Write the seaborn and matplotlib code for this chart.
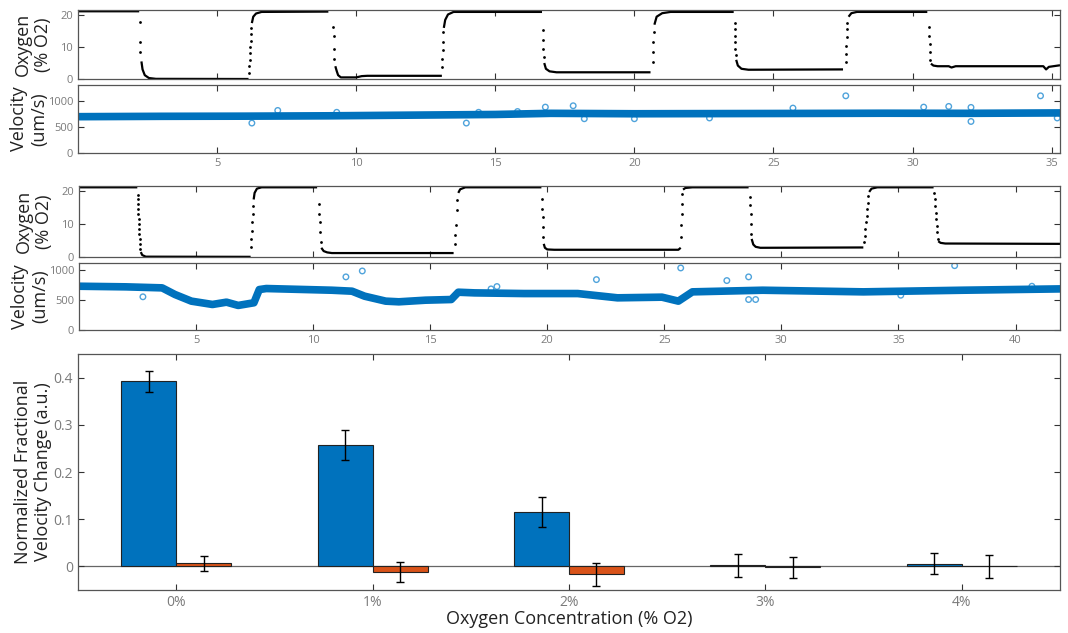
import numpy as np
import pandas as pd
import matplotlib
matplotlib.use("Agg")
import matplotlib.pyplot as plt
import seaborn as sns

nan = np.nan

# ---- run 1 (top pair of panels) ----
o2_a_t = [0, 2.2, nan, 2.28, 2.32, 2.4, 2.55, 2.8, 6.13, nan,
          6.25, 6.3, 6.4, 6.6, 9.0, nan,
          9.25, 9.3, 9.35, 9.45, 10.0, 10.2, 10.4, 13.08, nan,
          13.15, 13.2, 13.3, 13.5, 16.68, nan,
          16.76, 16.82, 16.95, 17.2, 20.58, nan,
          20.72, 20.8, 21.0, 21.3, 23.57, nan,
          23.66, 23.72, 23.85, 24.1, 27.5, nan,
          27.7, 27.8, 28.0, 30.53, nan,
          30.66, 30.75, 30.9, 31.3, 31.4, 31.55, 34.7, 34.8, 34.9, 35.3]
o2_a_v = [21.2, 21.2, nan, 5.5, 3.0, 1.2, 0.3, 0.05, 0.0, nan,
          17.5, 19.5, 20.5, 21.0, 21.1, nan,
          4.0, 2.5, 1.2, 0.5, 0.5, 0.9, 1.0, 1.0, nan,
          16.0, 18.5, 20.2, 21.0, 21.0, nan,
          5.0, 3.2, 2.4, 2.1, 2.1, nan,
          17.0, 19.5, 20.6, 21.0, 21.0, nan,
          6.0, 4.2, 3.2, 2.9, 3.0, nan,
          19.5, 20.6, 21.0, 21.0, nan,
          4.8, 4.2, 4.0, 4.0, 3.6, 4.0, 4.0, 3.0, 3.8, 4.3]
o2_a_dot_t = [2.23, 2.23, 2.23,
              6.15, 6.16, 6.17, 6.18, 6.19, 6.21, 6.22, 6.23,
              9.18, 9.19, 9.2, 9.21,
              13.09, 13.1, 13.11, 13.12, 13.13,
              16.71, 16.72, 16.73, 16.74,
              20.66, 20.67, 20.68, 20.69,
              23.6, 23.6, 23.61, 23.62, 23.63, 23.64,
              27.6, 27.61, 27.62, 27.63, 27.64, 27.65,
              30.59, 30.6, 30.61, 30.62, 30.63]
o2_a_dot_v = [18.0, 11.5, 8.3,
              2.0, 4.0, 6.0, 8.0, 10.0, 12.0, 14.0, 16.0,
              16.2, 13.4, 9.5, 6.4,
              3.8, 6.4, 9.0, 11.5, 14.6,
              15.2, 12.1, 9.5, 6.9,
              5.4, 8.5, 11.5, 14.6,
              17.5, 15.5, 13.5, 11.5, 9.5, 7.5,
              5.2, 7.8, 10.4, 13.0, 15.6, 17.6,
              16.2, 13.6, 11.0, 8.4, 5.8]
vel_a_t = [0, 3, 6, 9, 12, 15, 17, 20, 23, 26, 29, 32, 35.3]
vel_a_v = [705, 712, 715, 722, 735, 748, 770, 762, 765, 768, 772, 770, 778]
vel_a_out_t = [6.25, 7.18, 9.3, 13.96, 14.4, 15.8, 16.8, 17.8, 18.2, 20.0,
               22.7, 25.7, 27.6, 30.4, 31.3, 32.1, 32.1, 34.6, 35.2]
vel_a_out_v = [581, 826, 790, 581, 790, 805, 891, 917, 665, 665,
               680, 872, 1110, 891, 904, 885, 612, 1110, 680]

# ---- run 2 (middle pair of panels) ----
o2_b_t = [0, 2.49, nan, 2.64, 2.7, 2.85, 7.33, nan,
          7.46, 7.5, 7.6, 7.8, 10.17, nan,
          10.35, 10.45, 10.6, 10.8, 16.0, nan,
          16.2, 16.28, 16.5, 19.75, nan,
          19.85, 19.9, 20.0, 20.3, 25.6, 25.7, nan,
          25.8, 25.9, 26.2, 28.6, nan,
          28.73, 28.8, 28.9, 29.1, 33.5, nan,
          33.75, 33.85, 34.1, 36.5, nan,
          36.7, 36.8, 37.0, 41.9]
o2_b_v = [21.2, 21.2, nan, 1.5, 0.6, 0.1, 0.05, nan,
          17.5, 19.5, 20.8, 21.2, 21.2, nan,
          2.8, 1.8, 1.4, 1.2, 1.2, nan,
          19.5, 20.6, 21.2, 21.2, nan,
          4.0, 2.8, 2.3, 2.2, 2.2, 2.8, nan,
          20.5, 21.0, 21.2, 21.2, nan,
          5.5, 3.8, 3.1, 2.8, 2.9, nan,
          19.8, 20.8, 21.2, 21.2, nan,
          4.8, 4.3, 4.1, 4.0]
o2_b_dot_t = [2.5, 2.51, 2.52, 2.53, 2.54, 2.55, 2.56, 2.57, 2.58, 2.59, 2.6, 2.62,
              7.34, 7.36, 7.38, 7.4, 7.42, 7.44,
              10.24, 10.26, 10.28, 10.3, 10.32,
              16.06, 16.08, 16.1, 16.13, 16.16,
              19.78, 19.79, 19.8, 19.81, 19.82,
              25.72, 25.73, 25.74, 25.75, 25.76,
              28.67, 28.68, 28.69, 28.7, 28.71,
              33.52, 33.55, 33.58, 33.61, 33.64, 33.67, 33.7, 33.72,
              36.52, 36.55, 36.57, 36.59, 36.61, 36.63, 36.65, 36.67]
o2_b_dot_v = [19.0, 17.5, 16.0, 14.5, 13.0, 11.5, 10.0, 8.5, 7.0, 5.5, 4.0, 2.5,
              3.0, 5.5, 8.0, 10.5, 13.0, 15.5,
              16.2, 13.1, 10.6, 7.6, 4.5,
              4.0, 6.6, 9.6, 14.4, 17.2,
              17.7, 14.7, 12.1, 9.1, 6.1,
              6.1, 9.6, 13.1, 16.2, 19.2,
              18.2, 15.7, 13.1, 10.1, 7.1,
              4.5, 6.5, 8.5, 10.5, 12.5, 14.5, 16.5, 18.5,
              19.5, 17.5, 15.5, 13.5, 11.5, 9.5, 7.5, 5.5]
vel_b_t = [0, 2.0, 3.55, 4.1, 4.8, 5.7, 6.3, 6.8, 7.47, 7.7, 8.0, 10.8, 11.66,
           12.2, 13.1, 13.66, 14.8, 15.9, 16.2, 16.9, 19.0, 21.3, 23.0, 24.9,
           25.6, 26.2, 29.2, 33.5, 37.75, 41.9]
vel_b_v = [725, 715, 698, 588, 478, 423, 461, 407, 451, 670, 687, 659, 643,
           560, 478, 467, 494, 505, 626, 615, 604, 604, 533, 544,
           478, 632, 659, 632, 659, 681]
vel_b_out_t = [2.73, 11.4, 12.1, 17.6, 17.85, 22.1, 25.7, 27.67, 28.6, 28.6,
               28.9, 35.1, 37.4, 40.7]
vel_b_out_v = [550, 880, 978, 681, 720, 835, 1028, 819, 880, 505,
               505, 576, 1066, 725]

# ---- bar chart ----
conc_labels = ['0%', '1%', '2%', '3%', '4%']
blue_vals = [0.392, 0.258, 0.115, 0.002, 0.006]
blue_errs = [0.022, 0.032, 0.031, 0.024, 0.022]
orange_vals = [0.007, -0.012, -0.017, -0.002, 0.0]
orange_errs = [0.016, 0.022, 0.024, 0.022, 0.025]

BLUE = '#0072BD'
ORANGE = '#D95319'
LIGHT_BLUE = '#4FA3DB'
FRAME = '#555555'
TICKLAB = '#7a7a7a'

sns.set_style('ticks')
plt.rcParams['font.family'] = ['Open Sans', 'DejaVu Sans']

fig = plt.figure(figsize=(10.68, 6.33), dpi=100)
W, H = 1068.0, 633.0


def make_ax(left, right, top, bottom):
    return fig.add_axes([left / W, 1 - bottom / H, (right - left) / W, (bottom - top) / H])


def style_ax(ax, labelsize=8):
    for s in ax.spines.values():
        s.set_color(FRAME)
        s.set_linewidth(0.9)
    ax.tick_params(direction='in', top=True, right=True, length=4, width=0.8,
                   color='#333333', labelcolor=TICKLAB, labelsize=labelsize)


def oxygen_panel(ax, t, v, dt, dv, xmax):
    ax.plot(t, v, color='black', lw=1.6, solid_capstyle='butt')
    sns.scatterplot(x=dt, y=dv, ax=ax, color='black', s=4, linewidth=0, legend=False)
    ax.set_xlim(0, xmax)
    ax.set_ylim(0, 21.6)
    ax.set_yticks([0, 10, 20])
    ax.set_xticks(range(5, int(xmax) + 1, 5))
    ax.set_xticklabels([])
    ax.set_ylabel('Oxygen\n(% O2)', fontsize=13, color='#222222', linespacing=1.2)
    ax.yaxis.set_label_coords(-0.026, 0.5)
    style_ax(ax)


def velocity_panel(ax, t, v, ot, ov, xmax, ymax):
    sns.lineplot(x=t, y=v, ax=ax, color=BLUE, lw=5.5, solid_capstyle='round')
    sns.scatterplot(x=ot, y=ov, ax=ax, facecolor='none', edgecolor=LIGHT_BLUE,
                    s=16, linewidth=1.0, legend=False)
    ax.set_xlim(0, xmax)
    ax.set_ylim(0, ymax)
    ax.set_yticks([0, 500, 1000])
    ax.set_xticks(range(5, int(xmax) + 1, 5))
    ax.set_ylabel('Velocity\n(um/s)', fontsize=13, color='#222222', linespacing=1.2)
    ax.yaxis.set_label_coords(-0.03, 0.5)
    style_ax(ax)


ax1 = make_ax(78, 1060, 10, 79)
oxygen_panel(ax1, o2_a_t, o2_a_v, o2_a_dot_t, o2_a_dot_v, 35.3)
ax2 = make_ax(78, 1060, 85, 153)
velocity_panel(ax2, vel_a_t, vel_a_v, vel_a_out_t, vel_a_out_v, 35.3, 1320)

ax3 = make_ax(79, 1060, 186, 257)
oxygen_panel(ax3, o2_b_t, o2_b_v, o2_b_dot_t, o2_b_dot_v, 41.9)
ax4 = make_ax(79, 1060, 263, 330)
velocity_panel(ax4, vel_b_t, vel_b_v, vel_b_out_t, vel_b_out_v, 41.9, 1110)

# bar chart
df = pd.DataFrame({
    'conc': conc_labels * 2,
    'group': ['a'] * 5 + ['b'] * 5,
    'value': blue_vals + orange_vals,
})
ax5 = make_ax(78, 1060, 354, 590)
ax5.axhline(0, color='#666666', lw=0.9, zorder=0)
sns.barplot(data=df, x='conc', y='value', hue='group', palette=[BLUE, ORANGE],
            width=0.56, edgecolor='#222222', linewidth=0.8, errorbar=None,
            legend=False, ax=ax5, saturation=1)
for cont, errs, vals in zip(ax5.containers, [blue_errs, orange_errs], [blue_vals, orange_vals]):
    xs = [b.get_x() + b.get_width() / 2 for b in cont]
    ax5.errorbar(xs, vals, yerr=errs, fmt='none', ecolor='black', elinewidth=1.0,
                 capsize=3, capthick=1.0)
ax5.set_xlim(-0.5, 4.5)
ax5.set_ylim(-0.05, 0.45)
ax5.set_yticks([0, 0.1, 0.2, 0.3, 0.4])
ax5.set_yticklabels(['0', '0.1', '0.2', '0.3', '0.4'])
ax5.set_xlabel('Oxygen Concentration (% O2)', fontsize=13, color='#222222', labelpad=0)
ax5.set_ylabel('Normalized Fractional\nVelocity Change (a.u.)', fontsize=13,
               color='#222222', linespacing=1.2)
ax5.yaxis.set_label_coords(-0.026, 0.5)
style_ax(ax5, labelsize=10)

fig.savefig('out.png', dpi=100)
